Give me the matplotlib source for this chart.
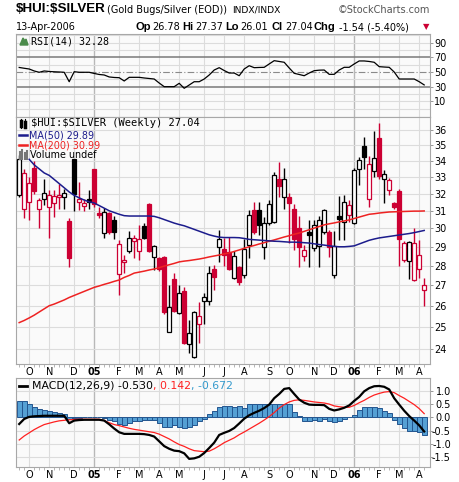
import numpy as np
import pandas as pd
import matplotlib
matplotlib.use("Agg")
import matplotlib.pyplot as plt
from matplotlib.patches import Rectangle, Polygon
from matplotlib.lines import Line2D
from matplotlib.ticker import NullLocator

plt.rcParams['text.parse_math'] = False
plt.rcParams['font.family'] = ['DejaVu Sans']

# one bar per week, 20-Sep-2004 .. 10-Apr-2006
weeks = pd.date_range("2004-09-20", periods=82, freq="W-MON")

opens = [31.92, 31.10, 31.50, 33.56, 31.10, 31.68, 31.20, 31.45, 31.80, 31.80,
         30.42, 34.10, 31.50, 31.27, 31.68, 33.50, 30.80, 29.75, 30.90, 30.48,
         27.57, 28.20, 28.78, 29.31, 28.78, 30.14, 31.39, 28.45, 28.40, 28.45,
         24.77, 27.32, 25.66, 26.72, 24.22, 23.64, 25.13, 26.23, 26.25, 27.83,
         28.99, 28.88, 28.72, 27.37, 27.93, 27.52, 29.10, 31.05, 31.05, 29.00,
         30.30, 30.35, 32.88, 31.80, 31.80, 31.10, 30.00, 28.50, 29.76, 28.94,
         29.05, 29.81, 29.81, 27.52, 30.70, 30.35, 30.76, 30.30, 33.50, 34.95,
         31.68, 33.40, 35.50, 32.85, 32.20, 31.45, 32.15, 28.30, 28.25, 27.27,
         27.83, 26.78]
highs = [34.35, 33.50, 33.00, 34.00, 31.75, 32.88, 32.20, 32.20, 32.60, 32.30,
         30.60, 34.10, 32.70, 31.70, 32.20, 33.50, 31.20, 31.15, 30.95, 30.70,
         29.37, 28.56, 29.87, 29.64, 30.19, 30.30, 31.45, 29.10, 28.45, 28.50,
         27.00, 27.60, 27.00, 26.92, 25.32, 25.75, 26.20, 26.62, 27.98, 28.04,
         29.92, 29.47, 29.55, 28.78, 28.00, 29.42, 31.05, 31.50, 31.50, 30.65,
         31.62, 33.30, 33.90, 33.56, 32.05, 31.40, 30.70, 29.10, 30.48, 30.50,
         30.70, 31.10, 29.90, 29.87, 31.85, 31.92, 31.62, 33.56, 34.25, 35.55,
         34.30, 35.95, 36.47, 33.45, 32.95, 31.50, 32.25, 29.30, 29.30, 30.00,
         29.37, 27.37]
lows = [31.80, 30.60, 30.50, 32.00, 30.00, 31.33, 29.47, 30.65, 31.10, 31.10,
        27.93, 30.99, 31.05, 31.00, 31.10, 31.20, 30.60, 29.47, 29.70, 29.42,
        26.52, 27.62, 28.67, 28.40, 28.30, 29.40, 28.70, 27.78, 27.75, 25.60,
        24.75, 25.70, 25.60, 24.22, 23.84, 23.60, 24.27, 25.13, 26.04, 26.77,
        28.20, 27.98, 27.78, 27.30, 27.02, 27.37, 28.40, 29.70, 29.64, 28.35,
        30.20, 30.30, 31.80, 31.10, 29.20, 28.83, 27.93, 28.25, 27.93, 28.80,
        27.95, 29.70, 28.45, 27.37, 29.37, 29.37, 30.35, 30.25, 32.52, 33.47,
        31.20, 33.00, 32.90, 31.45, 31.92, 31.10, 27.98, 28.20, 27.32, 27.20,
        27.37, 26.01]
closes = [34.10, 33.25, 32.64, 32.16, 31.62, 32.04, 31.92, 31.86, 31.82, 32.04,
          28.40, 31.98, 31.68, 31.45, 31.50, 31.42, 30.76, 30.93, 29.78, 29.81,
          29.15, 28.30, 29.47, 29.45, 29.42, 29.47, 28.78, 29.04, 27.83, 25.70,
          25.95, 25.75, 26.62, 24.27, 24.72, 25.70, 25.52, 26.43, 27.62, 27.42,
          29.42, 28.56, 27.83, 28.50, 27.17, 28.88, 30.76, 29.81, 30.19, 30.30,
          31.40, 33.13, 32.46, 32.88, 31.45, 29.42, 29.00, 28.83, 29.66, 30.19,
          30.48, 31.05, 28.99, 29.02, 30.55, 31.50, 31.33, 33.43, 34.06, 34.25,
          33.80, 34.20, 33.07, 33.20, 32.82, 31.20, 29.42, 29.20, 29.25, 29.22,
          28.58, 27.04]
ma50 = [np.nan, np.nan, 34.10, 33.75, 33.50, 33.25, 33.10, 32.85, 32.60, 32.35,
        32.10, 31.90, 31.75, 31.62, 31.52, 31.45, 31.30, 31.15, 31.00, 30.90,
        30.80, 30.72, 30.70, 30.70, 30.70, 30.70, 30.70, 30.68, 30.60, 30.50,
        30.40, 30.30, 30.22, 30.15, 30.05, 29.95, 29.85, 29.75, 29.65, 29.58,
        29.52, 29.50, 29.50, 29.50, 29.49, 29.45, 29.40, 29.38, 29.36, 29.34,
        29.32, 29.30, 29.29, 29.27, 29.25, 29.25, 29.24, 29.22, 29.20, 29.16,
        29.12, 29.09, 29.05, 29.02, 29.00, 29.00, 29.02, 29.05, 29.15, 29.25,
        29.35, 29.42, 29.48, 29.52, 29.56, 29.60, 29.64, 29.68, 29.72, 29.77,
        29.83, 29.89]
ma200 = [25.20, 25.30, 25.42, 25.55, 25.70, 25.85, 26.00, 26.08, 26.18, 26.28,
         26.40, 26.50, 26.60, 26.70, 26.80, 26.90, 26.97, 27.05, 27.12, 27.20,
         27.27, 27.40, 27.50, 27.62, 27.67, 27.72, 27.78, 27.83, 27.90, 27.98,
         28.05, 28.12, 28.20, 28.24, 28.27, 28.31, 28.35, 28.40, 28.46, 28.51,
         28.56, 28.62, 28.67, 28.75, 28.83, 28.92, 29.00, 29.07, 29.15, 29.22,
         29.30, 29.37, 29.45, 29.53, 29.60, 29.68, 29.75, 29.84, 29.93, 30.02,
         30.11, 30.20, 30.26, 30.31, 30.37, 30.42, 30.48, 30.56, 30.64, 30.72,
         30.80, 30.83, 30.87, 30.90, 30.93, 30.94, 30.95, 30.96, 30.97, 30.98,
         30.98, 30.99]
rsi = [56.2, 55.1, 54.1, 51.4, 49.6, 51.4, 50.7, 50.3, 50.0, 49.6,
       36.7, 50.4, 49.6, 49.6, 49.6, 48.0, 46.6, 45.9, 43.2, 42.5,
       42.2, 37.7, 42.7, 42.7, 42.7, 41.8, 41.1, 40.4, 34.9, 29.9,
       29.9, 29.9, 34.5, 27.7, 32.2, 36.7, 36.7, 40.4, 45.9, 52.7,
       55.9, 52.0, 48.6, 48.6, 44.9, 54.1, 58.6, 55.9, 56.2, 56.4,
       61.0, 65.5, 64.4, 63.3, 55.5, 48.2, 46.6, 44.9, 48.6, 51.8,
       52.5, 52.7, 46.8, 46.8, 52.7, 56.4, 56.4, 61.0, 65.1, 65.1,
       64.4, 63.3, 57.3, 56.8, 56.4, 50.0, 40.4, 40.4, 40.4, 40.4,
       36.7, 32.3]
macd = [-0.25, -0.06, 0.02, 0.04, 0.05, 0.06, 0.06, 0.06, 0.06, 0.06,
        -0.22, -0.12, -0.10, -0.09, -0.09, -0.09, -0.09, -0.12, -0.26, -0.42,
        -0.56, -0.62, -0.62, -0.62, -0.62, -0.63, -0.66, -0.72, -0.90, -1.08,
        -1.18, -1.25, -1.27, -1.35, -1.56, -1.54, -1.48, -1.34, -1.15, -0.95,
        -0.66, -0.58, -0.51, -0.40, -0.23, -0.05, 0.08, 0.17, 0.25, 0.35,
        0.48, 0.72, 0.88, 1.07, 1.10, 0.88, 0.67, 0.55, 0.48, 0.47,
        0.47, 0.46, 0.32, 0.26, 0.30, 0.36, 0.45, 0.62, 0.77, 0.98,
        1.10, 1.17, 1.18, 1.15, 1.05, 0.72, 0.48, 0.25, 0.05, -0.12,
        -0.30, -0.53]
signal = [-0.85, -0.70, -0.58, -0.46, -0.36, -0.27, -0.22, -0.17, -0.13, -0.11,
          -0.09, -0.08, -0.07, -0.07, -0.07, -0.07, -0.07, -0.12, -0.20, -0.27,
          -0.31, -0.36, -0.41, -0.45, -0.48, -0.51, -0.54, -0.57, -0.63, -0.72,
          -0.81, -0.92, -1.02, -1.09, -1.18, -1.25, -1.27, -1.29, -1.27, -1.18,
          -1.07, -0.95, -0.86, -0.77, -0.65, -0.55, -0.44, -0.33, -0.22, -0.10,
          0.03, 0.18, 0.35, 0.48, 0.58, 0.64, 0.66, 0.64, 0.61, 0.58,
          0.56, 0.54, 0.50, 0.43, 0.40, 0.38, 0.38, 0.45, 0.55, 0.64,
          0.75, 0.84, 0.90, 0.95, 0.97, 0.93, 0.82, 0.72, 0.60, 0.48,
          0.33, 0.14]
hist = [0.63, 0.62, 0.52, 0.38, 0.33, 0.27, 0.24, 0.21, 0.18, 0.14,
        -0.07, -0.03, -0.02, 0.00, 0.02, 0.03, 0.02, -0.03, -0.10, -0.15,
        -0.25, -0.28, -0.20, -0.15, -0.12, -0.10, -0.10, -0.10, -0.20, -0.35,
        -0.35, -0.30, -0.38, -0.40, -0.35, -0.28, -0.15, -0.05, 0.12, 0.25,
        0.40, 0.42, 0.42, 0.38, 0.42, 0.36, 0.50, 0.50, 0.50, 0.50,
        0.50, 0.50, 0.50, 0.50, 0.50, 0.22, 0.05, -0.12, -0.13, -0.10,
        -0.12, -0.07, -0.15, -0.18, -0.12, -0.05, 0.02, 0.10, 0.28, 0.38,
        0.40, 0.40, 0.35, 0.25, 0.15, -0.08, -0.25, -0.40, -0.50, -0.52,
        -0.55, -0.67]

price_ticks = list(range(24, 37))
rsi_ticks = [10, 30, 50, 70, 90]
macd_ticks = [-1.5, -1.0, -0.5, 0.0, 0.5, 1.0]

RED = "#cc0033"
BG = "#fafafa"
GRID = "#dcdcdc"
EDGE = "#a8a8a8"

W, H = 460, 482
fig = plt.figure(figsize=(W / 100, H / 100), dpi=100)
renderer = fig.canvas.get_renderer()


def box(l, t, r, b):
    return [l / W, 1 - b / H, (r - l) / W, (b - t) / H]


def ftext(x, y, s, **kw):
    kw.setdefault('va', 'center')
    kw.setdefault('fontsize', 7)
    return fig.text(x / W, 1 - y / H, s, **kw)


def run_text(x, y, pieces, **kw):
    # write pieces one after another, each starting where the last one ended
    for s, color in pieces:
        t = ftext(x, y, s, color=color, **kw)
        x = t.get_window_extent(renderer).x1


def fline(xs, ys, **kw):
    fig.add_artist(Line2D([v / W for v in xs], [1 - v / H for v in ys],
                          transform=fig.transFigure, **kw))


ax_rsi = fig.add_axes(box(16, 34, 430, 117))
ax = fig.add_axes(box(16, 117, 430, 364))
ax_macd = fig.add_axes(box(16, 378, 430, 467))
ax.set_yscale('log')

x = np.arange(len(closes))
month_idx = [i for i in range(1, len(weeks)) if weeks[i].month != weeks[i - 1].month]
month_lbl = [weeks[i].strftime('%y') if weeks[i].month == 1 else weeks[i].strftime('%b')[0]
             for i in month_idx]

for a in (ax_rsi, ax, ax_macd):
    a.set_facecolor(BG)
    a.set_xlim(-0.64, 82.16)
    for i in month_idx:
        year = weeks[i].month == 1
        a.axvline(i, color='#b8b8b8' if year else GRID, lw=1.0 if year else 0.8, zorder=0)
    for s in a.spines.values():
        s.set_color(EDGE)
        s.set_linewidth(0.8)
    a.yaxis.tick_right()
    a.yaxis.set_minor_locator(NullLocator())
    a.set_xticks(x, minor=True)
    a.set_xticks(month_idx)
    a.tick_params(axis='x', which='minor', length=2, width=0.5, color='#999999')
    a.tick_params(axis='x', which='major', length=0, pad=2.5, labelsize=7)
    a.tick_params(axis='y', which='major', length=2, width=0.6, color='#888888', pad=1, labelsize=7)

ax_rsi.set_xticklabels([])
for a in (ax, ax_macd):
    a.set_xticklabels(month_lbl)
    for t, i in zip(a.get_xticklabels(), month_idx):
        if weeks[i].month == 1:
            t.set_fontweight('bold')

# RSI panel
ax_rsi.set_ylim(-11.6, 102)
for v in range(0, 101, 10):
    if v not in (30, 50, 70):
        ax_rsi.axhline(v, color=GRID, lw=0.8, zorder=0)
ax_rsi.axhline(70, color='#7a7a7a', lw=1.1, zorder=1)
ax_rsi.axhline(30, color='#7a7a7a', lw=1.1, zorder=1)
ax_rsi.axhline(50, color='#8a8a8a', lw=0.8, ls=(0, (6, 2, 1, 2)), zorder=1)
ax_rsi.plot(x, rsi, color='black', lw=0.9, zorder=3)
ax_rsi.set_yticks(rsi_ticks)
ax_rsi.set_yticklabels([str(v) for v in rsi_ticks])

# price panel
ax.set_ylim(23.34, 36.88)
ax.yaxis.set_minor_locator(NullLocator())
ax.set_yticks(price_ticks)
ax.set_yticklabels([str(v) for v in price_ticks])
for v in price_ticks:
    ax.axhline(v, color=GRID, lw=0.8, zorder=0)

for i in x:
    o, h, l, c = opens[i], highs[i], lows[i], closes[i]
    prev = closes[i - 1] if i > 0 else o
    col = 'black' if c >= prev else RED
    ax.vlines(i, l, h, color=col, lw=1.0, zorder=2)
    lo_b, hi_b = min(o, c), max(o, c)
    if hi_b / lo_b < 1.004:
        hi_b = lo_b * 1.004
    face = col if c < o else 'white'
    ax.add_patch(Rectangle((i - 0.4, lo_b), 0.8, hi_b - lo_b, facecolor=face,
                           edgecolor=col, lw=0.9, zorder=3))

ax.plot(x, ma200, color='#ee2222', lw=1.1, zorder=4)
ax.plot(x, ma50, color='#1c1c8c', lw=1.1, zorder=4)

# MACD panel
ax_macd.set_ylim(-1.865, 1.48)
for v in macd_ticks:
    ax_macd.axhline(v, color=GRID, lw=0.8, zorder=0)
ax_macd.bar(x, hist, width=1.0, color='#55a0d4', edgecolor='#23558f', lw=0.7, zorder=2)
ax_macd.plot(x, signal, color='#ff2020', lw=0.9, zorder=3)
ax_macd.plot(x, macd, color='black', lw=1.6, zorder=4)
ax_macd.set_yticks(macd_ticks)
ax_macd.set_yticklabels([f"{v:.1f}" for v in macd_ticks])
ax_macd.tick_params(axis='y', pad=13)
for t in ax_macd.get_yticklabels():
    t.set_horizontalalignment('right')

# header
ftext(16, 9.5, "$HUI:$SILVER", fontsize=9.6, fontweight='bold', family='Liberation Sans')
ftext(107, 10, "(Gold Bugs/Silver (EOD))", fontsize=7)
ftext(232, 10, "INDX/INDX", fontsize=6.6)
ftext(430, 10, "©StockCharts.com", fontsize=7, ha='right', color='#555555')
ftext(16, 27, "13-Apr-2006", fontsize=7)
for s, px, bold in [("Op", 135, True), ("26.78", 152, False), ("Hi", 182, True),
                    ("27.37", 195, False), ("Lo", 225, True), ("26.01", 240, False),
                    ("Cl", 272, True), ("27.04", 285, False), ("Chg", 314, True),
                    ("-1.54 (-5.40%)", 339, False)]:
    if bold:
        ftext(px, 26.5, s, fontsize=8, fontweight='bold', family='Liberation Sans')
    else:
        ftext(px, 27, s, fontsize=7)
ftext(423, 27, "▼", fontsize=6, color=RED)

# legends
fig.add_artist(Polygon([(20 / W, 1 - 45 / H), (23 / W, 1 - 38 / H), (25 / W, 1 - 41 / H),
                        (26 / W, 1 - 39 / H), (28 / W, 1 - 45 / H)],
                       closed=True, transform=fig.transFigure, color='#4a8a4a'))
ftext(31, 41, "RSI(14) 32.28", fontsize=7.2, family='DejaVu Sans Mono')

fline([21, 21], [119, 128], color='black', lw=0.8)
fline([21, 21], [121, 126], color='black', lw=2.5)
fline([25, 25], [119, 128], color='black', lw=0.8)
fline([25, 25], [122, 127], color='black', lw=2.5)
ftext(31, 123.5, "$HUI:$SILVER (Weekly) 27.04", fontsize=7.5, family='DejaVu Sans Mono')
fline([19, 27], [135, 135], color='#1c1c8c', lw=1.8)
ftext(29, 135, "MA(50) 29.89", fontsize=6.9, color='#1c1c8c')
fline([19, 27], [145, 145], color='#ee2222', lw=1.8)
ftext(29, 145, "MA(200) 30.99", fontsize=6.9, color='#ee2222')
for bx, top in [(20, 152), (22.5, 150), (25, 153), (27.5, 151)]:
    fline([bx, bx], [159, top], color='#777777', lw=1.5)
ftext(30, 155, "Volume undef", fontsize=6.9)

fline([19, 27], [386, 386], color='black', lw=2)
run_text(32, 386, [("MACD(12,26,9) -0.530", 'black'), (", 0.142", '#ff2020'),
                   (", -0.672", '#3399cc')], fontsize=7.8)

fig.savefig("out.png", dpi=100)
